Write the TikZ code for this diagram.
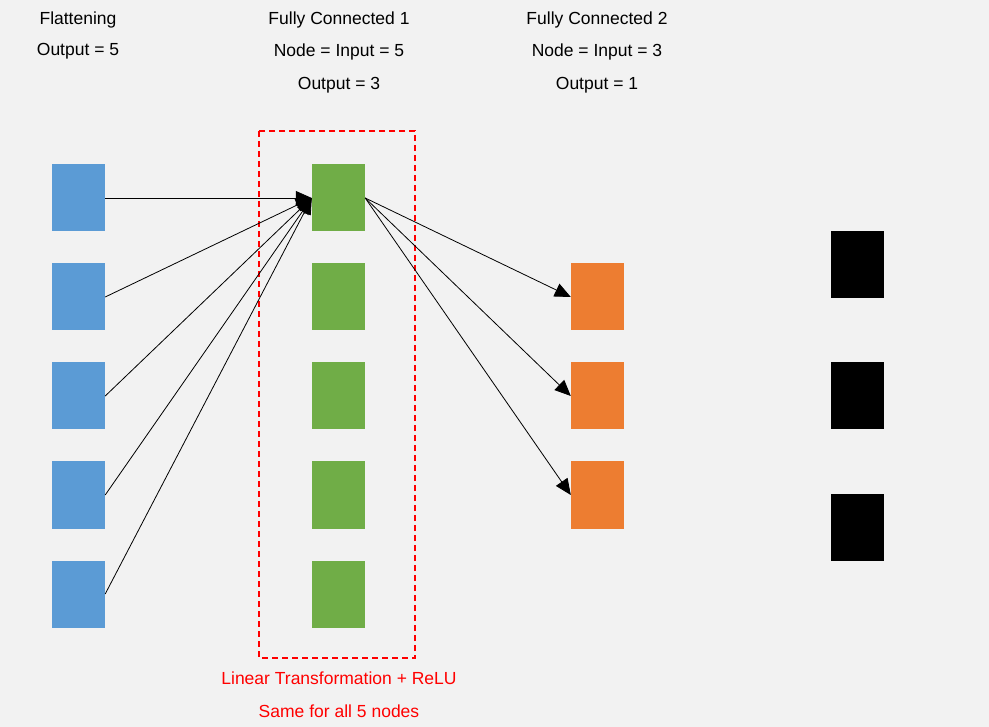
\documentclass[tikz,border=0pt]{standalone}
\usepackage{fontspec}
\setmainfont{Liberation Sans}
\usetikzlibrary{arrows.meta,calc,positioning}
\definecolor{bgfill}{HTML}{F2F2F2}
\definecolor{flatblue}{HTML}{5B9BD5}
\definecolor{fcgreen}{HTML}{70AD47}
\definecolor{fcorange}{HTML}{ED7D31}
\definecolor{relured}{HTML}{FF0000}
\tikzset{
  >={Triangle[length=16pt,width=14pt]},
  unit/.style={minimum width=53pt,minimum height=67pt,inner sep=0pt,draw=none},
  caption/.style={inner sep=0pt,font=\fontsize{17.5}{21}\selectfont},
  link/.style={->,line width=0.8pt}
}

\begin{document}
\begin{tikzpicture}[x=1pt,y=-1pt]
  % Canvas
  \fill[bgfill] (0,0) rectangle (989,727);
  \useasboundingbox (0,0) rectangle (989,727);

  % Layer headings
  \node[caption] (hflat) at (78,19.5) {Flattening};
  \node[caption] (oflat) at (78,51.5) {Output = 5};
  \node[caption] (hfca) at (339,19.5) {Fully Connected 1};
  \node[caption] (nfca) at (339,51.5) {Node = Input = 5};
  \node[caption] (ofca) at (339,85.5) {Output = 3};
  \node[caption] (hfcb) at (597,19.5) {Fully Connected 2};
  \node[caption] (nfcb) at (597,51.5) {Node = Input = 3};
  \node[caption] (ofcb) at (597,85.5) {Output = 1};

  % Flattened inputs and first dense layer
  \foreach \i/\y in {1/198,2/297,3/396,4/495,5/594} {
    \node[unit,fill=flatblue] (in\i) at (78.5,\y) {};
    \node[unit,fill=fcgreen] (fa\i) at (338.5,\y) {};
  }

  % Second dense layer
  \foreach \i/\y in {1/297,2/396,3/495}
    \node[unit,fill=fcorange] (fb\i) at (597.5,\y) {};

  % Output column
  \foreach \i/\y in {1/264.5,2/396,3/527.5}
    \node[unit,fill=black] (out\i) at (857.5,\y) {};

  % Highlight around first dense layer
  \draw[relured,line width=1.3pt,dash pattern=on 6pt off 4pt]
    (259,131) rectangle (415,658);
  \node[caption,text=relured] (lin) at (339,678.5)
    {Linear Transformation + ReLU};
  \node[caption,text=relured] (same) at (339,711.5)
    {Same for all 5 nodes};

  % Connections
  \foreach \i in {1,...,5}
    \draw[link] (in\i.east) -- (fa1.west);
  \foreach \i in {1,2,3}
    \draw[link] (fa1.east) -- (fb\i.west);

\end{tikzpicture}
\end{document}
